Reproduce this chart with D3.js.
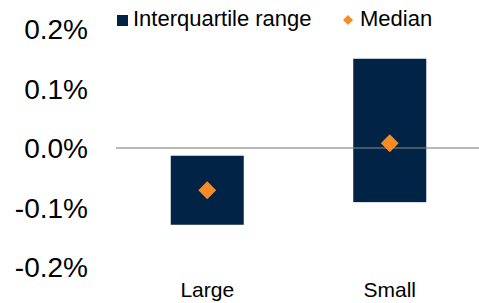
<!DOCTYPE html>
<html>
<head>
<meta charset="utf-8">
<script src="https://cdn.jsdelivr.net/npm/d3@7"></script>
<style>
  body { margin: 0; background: #fff; }
  text { font-family: "Liberation Sans", Arial, sans-serif; fill: #000; }
</style>
</head>
<body>
<div id="chart"></div>
<script>
const categories = ['Large', 'Small'];
const q1 = [-0.129, -0.091];
const q3 = [-0.013, 0.150];
const median = [-0.071, 0.008];
const yTicks = [-0.2, -0.1, 0.0, 0.1, 0.2];

const width = 479, height = 303;

const svg = d3.select('#chart')
    .append('svg')
    .attr('width', width)
    .attr('height', height);

const x = d3.scaleBand().domain(categories).range([116, 481]);
const y = d3.scaleLinear().domain([-0.2, 0.2]).range([267, 29]);

// y tick labels only, no axis line
svg.append('g')
    .selectAll('text')
    .data(yTicks)
    .enter()
    .append('text')
    .attr('x', 88)
    .attr('y', d => y(d) + 10)
    .attr('text-anchor', 'end')
    .style('font-size', '28px')
    .text(d => d.toFixed(1) + '%');

const bw = x.bandwidth() * 0.4;

svg.selectAll('.iqr')
    .data(categories)
    .enter()
    .append('rect')
    .attr('class', 'iqr')
    .attr('x', d => x(d) + (x.bandwidth() - bw) / 2)
    .attr('width', bw)
    .attr('y', (d, i) => y(q3[i]))
    .attr('height', (d, i) => y(q1[i]) - y(q3[i]))
    .attr('fill', '#012345');

// zero line sits over the bars
svg.append('line')
    .attr('x1', 116)
    .attr('x2', width)
    .attr('y1', y(0))
    .attr('y2', y(0))
    .attr('stroke', '#808080')
    .attr('stroke-opacity', 0.75)
    .attr('stroke-width', 1.5);

const diamond = d3.symbol().type(d3.symbolSquare).size(160);
svg.selectAll('.med')
    .data(categories)
    .enter()
    .append('path')
    .attr('class', 'med')
    .attr('d', diamond)
    .attr('transform', (d, i) => `translate(${x(d) + x.bandwidth() / 2},${y(median[i])}) rotate(45)`)
    .attr('fill', '#F68B28');

// category labels
svg.append('g')
    .selectAll('text')
    .data(categories)
    .enter()
    .append('text')
    .attr('x', d => x(d) + x.bandwidth() / 2)
    .attr('y', 297)
    .attr('text-anchor', 'middle')
    .style('font-size', '21px')
    .text(d => d);

// legend
const legend = svg.append('g');
legend.append('rect')
    .attr('x', 117).attr('y', 15)
    .attr('width', 11).attr('height', 11)
    .attr('fill', '#012345');
legend.append('text')
    .attr('x', 133).attr('y', 26)
    .style('font-size', '22px')
    .text('Interquartile range');
legend.append('path')
    .attr('d', d3.symbol().type(d3.symbolSquare).size(50))
    .attr('transform', 'translate(348,20) rotate(45)')
    .attr('fill', '#F68B28');
legend.append('text')
    .attr('x', 360).attr('y', 26)
    .style('font-size', '22px')
    .text('Median');
</script>
</body>
</html>
